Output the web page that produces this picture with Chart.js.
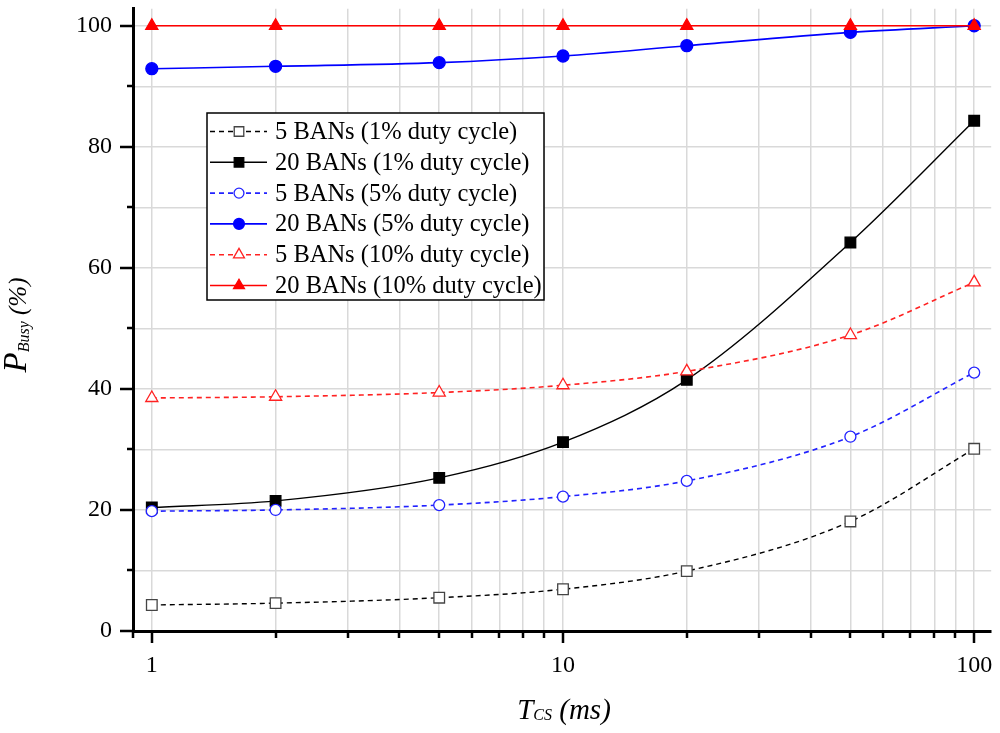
<!DOCTYPE html>
<html>
<head>
<meta charset="utf-8">
<title>P Busy vs T CS</title>
<script src="https://cdn.jsdelivr.net/npm/chart.js@4.4.0/dist/chart.umd.min.js"></script>
<style>
  html, body { margin: 0; padding: 0; background: #fff; }
  canvas { display: block; }
</style>
</head>
<body>
<canvas id="busy-chart" width="1000" height="733"></canvas>
<script>
// T_CS values (ms) and P_Busy (%)
const tcs = [1, 2, 5, 10, 20, 50, 100];
const bans5Duty1 = [4.3, 4.6, 5.5, 6.9, 9.9, 18.1, 30.1];
const bans20Duty1 = [20.4, 21.5, 25.3, 31.2, 41.5, 64.2, 84.3];
const bans5Duty5 = [19.8, 20.0, 20.8, 22.2, 24.8, 32.1, 42.7];
const bans20Duty5 = [92.9, 93.3, 93.9, 95.0, 96.7, 98.9, 100];
const bans5Duty10 = [38.5, 38.7, 39.4, 40.6, 42.9, 48.9, 57.6];
const bans20Duty10 = [100, 100, 100, 100, 100, 100, 100];

const seriesLabels = [
  '5 BANs (1% duty cycle)',
  '20 BANs (1% duty cycle)',
  '5 BANs (5% duty cycle)',
  '20 BANs (5% duty cycle)',
  '5 BANs (10% duty cycle)',
  '20 BANs (10% duty cycle)'
];

const xTickLabels = [1, 10, 100];
const xGridValues = [0.9, 1, 2, 3, 4, 5, 6, 7, 8, 9, 10, 20, 30, 40, 50, 60, 70, 80, 90, 100];
const yTickLabels = [0, 20, 40, 60, 80, 100];
const yGridValues = [0, 10, 20, 30, 40, 50, 60, 70, 80, 90, 100];

const serif = '"Liberation Serif", "Times New Roman", serif';
const dash = [5, 4];

function makeSeries(i, values, color, style, filled, radius) {
  return {
    label: seriesLabels[i],
    data: tcs.map((t, k) => ({ x: t, y: values[k] })),
    borderColor: color,
    borderWidth: color === '#000000' ? 1.4 : 1.6,
    borderDash: filled ? [] : dash,
    pointStyle: style,
    pointRadius: radius,
    pointHoverRadius: radius,
    pointBackgroundColor: filled ? color : '#ffffff',
    pointBorderColor: filled ? color : (color === '#000000' ? '#444444' : color),
    pointBorderWidth: 1.3,
    cubicInterpolationMode: 'monotone',
    fill: false,
    order: 5 - i
  };
}

const datasets = [
  makeSeries(0, bans5Duty1, '#000000', 'rect', false, 7.5),
  makeSeries(1, bans20Duty1, '#000000', 'rect', true, 7.5),
  makeSeries(2, bans5Duty5, '#2222ff', 'circle', false, 5.5),
  makeSeries(3, bans20Duty5, '#0000ff', 'circle', true, 6),
  makeSeries(4, bans5Duty10, '#ff2222', 'triangle', false, 7),
  makeSeries(5, bans20Duty10, '#ff0000', 'triangle', true, 7)
];

const figureExtras = {
  id: 'figureExtras',
  beforeDraw(chart) {
    const ctx = chart.ctx;
    ctx.save();
    ctx.fillStyle = '#ffffff';
    ctx.fillRect(0, 0, chart.width, chart.height);
    ctx.restore();
  },
  afterDraw(chart) {
    const ctx = chart.ctx;
    const xs = chart.scales.x;
    const ys = chart.scales.y;
    const area = chart.chartArea;
    ctx.save();

    // tick marks, outward
    ctx.strokeStyle = '#000';
    ctx.lineWidth = 2.5;
    ctx.beginPath();
    yGridValues.forEach(v => {
      const py = Math.round(ys.getPixelForValue(v));
      const len = yTickLabels.includes(v) ? 13 : 6;
      ctx.moveTo(area.left - len, py);
      ctx.lineTo(area.left, py);
    });
    xGridValues.forEach(v => {
      const px = Math.round(xs.getPixelForValue(v));
      const len = xTickLabels.includes(v) ? 12 : 7;
      ctx.moveTo(px, area.bottom);
      ctx.lineTo(px, area.bottom + len);
    });
    ctx.stroke();

    // axis titles with subscripts
    ctx.fillStyle = '#000';
    ctx.textAlign = 'left';
    ctx.textBaseline = 'alphabetic';
    const xParts = [['T', 29, 0], ['CS', 16, 1], [' (ms)', 29, 0]];
    drawParts(ctx, xParts, 564, 719);

    ctx.save();
    ctx.translate(26, 325);
    ctx.rotate(-Math.PI / 2);
    const yParts = [['P', 33, 0], ['Busy', 16, 3], [' (%)', 25, 0]];
    drawParts(ctx, yParts, 0, 0);
    ctx.restore();

    // legend box
    const box = { left: 207, top: 113, width: 337, height: 187 };
    ctx.fillStyle = '#ffffff';
    ctx.fillRect(box.left, box.top, box.width, box.height);
    ctx.strokeStyle = '#000';
    ctx.lineWidth = 1.5;
    ctx.strokeRect(box.left, box.top, box.width, box.height);

    chart.data.datasets.forEach((ds, i) => {
      const cy = box.top + 18.5 + i * 30.8;
      ctx.setLineDash(ds.borderDash);
      ctx.strokeStyle = ds.borderColor;
      ctx.lineWidth = ds.borderWidth;
      ctx.beginPath();
      ctx.moveTo(210, cy);
      ctx.lineTo(267, cy);
      ctx.stroke();
      ctx.setLineDash([]);
      ctx.fillStyle = ds.pointBackgroundColor;
      ctx.strokeStyle = ds.pointBorderColor;
      ctx.lineWidth = ds.pointBorderWidth;
      Chart.helpers.drawPoint(ctx, {
        pointStyle: ds.pointStyle,
        radius: ds.pointRadius * 0.9,
        rotation: 0,
        borderWidth: ds.pointBorderWidth
      }, 239, cy);
      ctx.fillStyle = '#000';
      ctx.font = `24.5px ${serif}`;
      ctx.textBaseline = 'middle';
      ctx.fillText(ds.label, 275, cy + 1);
    });

    ctx.restore();
  }
};

function drawParts(ctx, parts, cx, baseline) {
  let total = 0;
  parts.forEach(([text, size]) => {
    ctx.font = `italic ${size}px ${serif}`;
    total += ctx.measureText(text).width;
  });
  let tx = cx - total / 2;
  parts.forEach(([text, size, drop]) => {
    ctx.font = `italic ${size}px ${serif}`;
    ctx.fillText(text, tx, baseline + drop);
    tx += ctx.measureText(text).width;
  });
}

function noPadding(s) {
  s.paddingTop = 0;
  s.paddingBottom = 0;
  s.paddingLeft = 0;
  s.paddingRight = 0;
}

const ctx = document.getElementById('busy-chart').getContext('2d');
window.busyChart = new Chart(ctx, {
  type: 'line',
  data: { datasets: datasets },
  plugins: [figureExtras],
  options: {
    responsive: false,
    animation: false,
    devicePixelRatio: 1,
    clip: false,
    layout: { padding: { top: 2, right: 8, left: 0, bottom: 0 } },
    plugins: {
      legend: { display: false },
      tooltip: { enabled: false },
      title: { display: false }
    },
    scales: {
      x: {
        type: 'logarithmic',
        min: 0.9,
        max: 110,
        afterBuildTicks: s => { s.ticks = xGridValues.map(v => ({ value: v })); },
        afterFit: s => { s.height = 102; noPadding(s); },
        grid: { color: '#d9d9d9', lineWidth: 1.5, drawTicks: false },
        border: { display: true, color: '#000', width: 3 },
        ticks: {
          autoSkip: false,
          maxRotation: 0,
          padding: 20,
          color: '#000',
          font: { family: serif, size: 24 },
          callback: v => xTickLabels.includes(v) ? String(v) : ''
        }
      },
      y: {
        type: 'linear',
        min: 0,
        max: 102.8,
        afterBuildTicks: s => { s.ticks = yGridValues.map(v => ({ value: v })); },
        afterFit: s => { s.width = 133; noPadding(s); },
        grid: { color: '#d9d9d9', lineWidth: 1.5, drawTicks: false },
        border: { display: true, color: '#000', width: 3 },
        ticks: {
          autoSkip: false,
          padding: 21,
          color: '#000',
          font: { family: serif, size: 24 },
          callback: v => yTickLabels.includes(v) ? String(v) : ''
        }
      }
    }
  }
});
</script>
</body>
</html>
